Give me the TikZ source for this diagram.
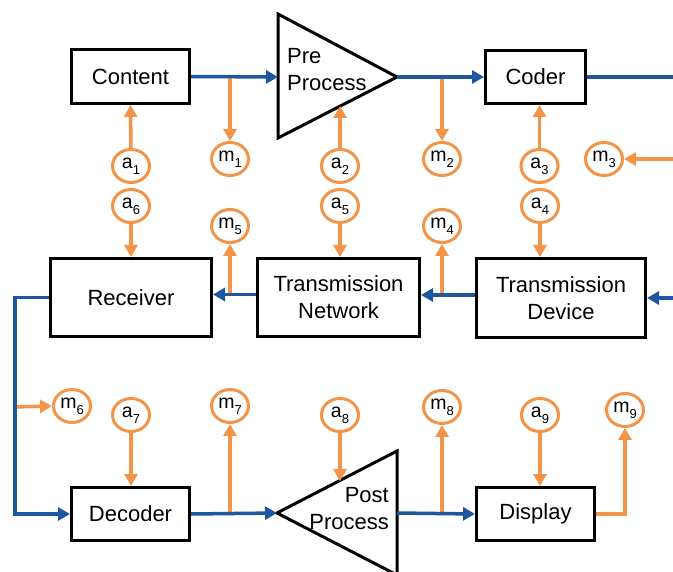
\documentclass[tikz,border=0pt]{standalone}
\usepackage{fontspec}
\setmainfont{Liberation Sans}
\usetikzlibrary{arrows.meta,shapes.geometric}
\definecolor{flowblue}{RGB}{31,86,160}
\definecolor{probe}{RGB}{243,148,73}
% letter with a lowered index, as used in the small probe circles
\newcommand{\idx}[2]{#1\raisebox{-6pt}{\fontsize{13}{13}\selectfont #2}}
\begin{document}
\begin{tikzpicture}[x=1pt,y=-1pt,
  block/.style={draw=black,line width=3pt,inner sep=0pt,align=center,
    font=\fontsize{22}{27}\selectfont},
  meter/.style={ellipse,draw=probe,line width=3pt,minimum width=37,
    minimum height=33,inner sep=0pt,font=\fontsize{19.5}{19.5}\selectfont},
  flow/.style={draw=flowblue,line width=3.5pt,-{Triangle[width=13pt,length=12pt]}},
  flowline/.style={draw=flowblue,line width=3.5pt},
  tap/.style={draw=probe,line width=3.5pt,-{Triangle[width=13pt,length=12pt]}},
  stage/.style={draw=black,line width=3pt,line join=miter},
  stagetext/.style={inner sep=0pt,font=\fontsize{22}{27}\selectfont},
]
\useasboundingbox (0,0) rectangle (673,572);

% ---- processing blocks ----
\node[block,minimum width=118,minimum height=54] (content) at (130.5,76.5) {Content};
\node[block,minimum width=100,minimum height=53] (coder) at (535.5,77) {Coder};
\node[block,minimum width=161,minimum height=78] (receiver) at (131,297.5) {Receiver};
\node[block,minimum width=162,minimum height=78] (tnet) at (338.5,297.5) {Transmission\\Network};
\node[block,minimum width=169,minimum height=79] (tdev) at (561,298) {Transmission\\Device};
\node[block,minimum width=118,minimum height=53] (decoder) at (130.5,514) {Decoder};
\node[block,minimum width=118,minimum height=53] (display) at (535.5,514) {Display};

% ---- pre / post processing stages ----
\draw[stage] (278,14) -- (397,77) -- (278,138) -- cycle;
\coordinate (preIn) at (278,77);
\coordinate (preOut) at (397,77);
\coordinate (preA) at (340,106);
\node[stagetext,align=left,anchor=west] (pretext) at (287,70) {Pre\\Process};

\draw[stage] (397,451) -- (277,513) -- (397,575) -- cycle;
\coordinate (postIn) at (277,513);
\coordinate (postOut) at (397,513);
\coordinate (postA) at (340,481);
\node[stagetext,align=right,anchor=east] (posttext) at (389,509) {Post\\Process};

% ---- probes ----
\node[meter] (a1) at (131,166) {\idx{a}{1}};
\node[meter] (m1) at (230,159) {\idx{m}{1}};
\node[meter] (a2) at (340,166) {\idx{a}{2}};
\node[meter] (m2) at (442,159) {\idx{m}{2}};
\node[meter] (a3) at (539.5,166) {\idx{a}{3}};
\node[meter] (m3) at (604,159) {\idx{m}{3}};
\node[meter] (a6) at (131,206) {\idx{a}{6}};
\node[meter] (m5) at (230,226) {\idx{m}{5}};
\node[meter] (a5) at (340,206) {\idx{a}{5}};
\node[meter] (m4) at (442,226) {\idx{m}{4}};
\node[meter] (a4) at (540,206) {\idx{a}{4}};
\node[meter] (m6) at (72,406) {\idx{m}{6}};
\node[meter] (a7) at (131,415) {\idx{a}{7}};
\node[meter] (m7) at (230,406) {\idx{m}{7}};
\node[meter] (a8) at (340,415) {\idx{a}{8}};
\node[meter] (m8) at (442,407) {\idx{m}{8}};
\node[meter] (a9) at (540,415) {\idx{a}{9}};
\node[meter] (m9) at (625,410) {\idx{m}{9}};

% ---- link coordinates ----
\coordinate (outR) at (675,77);
\coordinate (inR) at (675,298);
\coordinate (dw) at ([yshift=3]tdev.west);
\coordinate (ne) at ([yshift=3]tnet.west);
\coordinate (m3src) at (675,159);
\coordinate (leftRail) at (15,297.5);
\coordinate (m6tap) at (15,407);

% ---- orange probe taps ----
\draw[tap] (a1.north) -- (content.south);
\draw[tap] (m1.north |- content.east) -- (m1.north);
\draw[tap] (a2.north) -- (preA);
\draw[tap] (m2.north |- preOut) -- (m2.north);
\draw[tap] (a3.north) -- (a3.north |- coder.south);
\draw[tap] (m3src) -- (m3.east);
\draw[tap] (a6.south) -- (a6.south |- receiver.north);
\draw[tap] (m5.south |- ne) -- (m5.south);
\draw[tap] (a5.south) -- (a5.south |- tnet.north);
\draw[tap] (m4.south |- dw) -- (m4.south);
\draw[tap] (a4.south) -- (a4.south |- tdev.north);
\draw[tap] (m6tap) -- (m6.west);
\draw[tap] (a7.south) -- (a7.south |- decoder.north);
\draw[tap] (m7.south |- decoder.east) -- (m7.south);
\draw[tap] (a8.south) -- (postA);
\draw[tap] (m8.south |- postOut) -- (m8.south);
\draw[tap] (a9.south) -- (a9.south |- display.north);
\draw[tap] (display.east) -| (m9.south);

% ---- blue signal path ----
\draw[flow] (content.east) -- (preIn);
\draw[flow] (preOut) -- (coder.west);
\draw[flowline] (coder.east) -- (outR);
\draw[flow] (inR) -- (tdev.east);
\draw[flow] (dw) -- (dw -| tnet.east);
\draw[flow] (ne) -- (ne -| receiver.east);
\draw[flow] (receiver.west) -- (leftRail) |- (decoder.west);
\draw[flow] (decoder.east) -- (postIn);
\draw[flow] (postOut) -- (display.west);
\end{tikzpicture}
\end{document}
